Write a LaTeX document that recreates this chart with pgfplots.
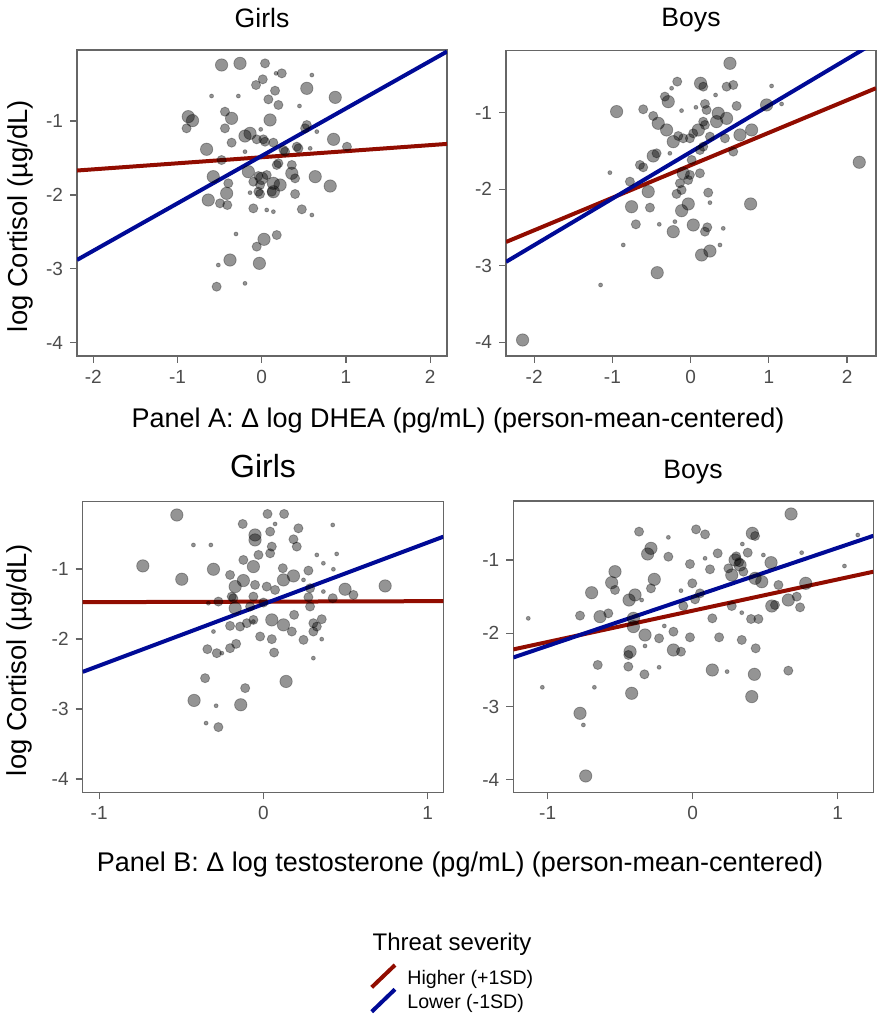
\documentclass[border=0pt]{standalone}
\usepackage{pgfplots}
\pgfplotsset{compat=1.18}
\usepackage{pgfplotstable}
\usepackage{fontspec}
\setmainfont{Liberation Sans}
\definecolor{hired}{RGB}{145,12,0}
\definecolor{loblue}{RGB}{0,10,150}

\pgfplotstableread{
x y s
-0.477 -0.242 3.1
-0.258 -0.220 3.1
0.039 -0.220 2.3
0.238 -0.355 2.3
0.170 -0.355 1
0.595 -0.378 1
0.012 -0.436 2.3
-0.068 -0.513 2.3
0.535 -0.558 3.1
0.158 -0.590 2.3
-0.596 -0.662 1
-0.278 -0.662 1
0.079 -0.707 2.3
0.873 -0.680 3.1
0.198 -0.783 2.3
0.448 -0.797 1
-0.873 -0.941 3.1
-0.822 -0.995 3.1
-0.893 -1.099 2.3
-0.437 -0.874 2.3
-0.358 -0.964 3.1
-0.437 -1.099 2.3
0.099 -0.986 3.1
-0.012 -1.113 1
-0.139 -1.167 3.1
-0.199 -1.203 3.1
-0.060 -1.248 2.3
0.535 -1.054 2.3
0.654 -1.144 1
-0.358 -1.293 2.3
0.019 -1.248 2.3
0.138 -1.293 2.3
0.853 -1.248 3.1
-0.655 -1.383 3.1
-0.199 -1.415 1
0.258 -1.392 2.3
0.416 -1.347 2.3
0.575 -1.370 1
-0.477 -1.528 2.3
0.178 -1.595 2.3
-0.576 -1.753 3.1
-0.159 -1.686 3.1
-0.040 -1.744 2.3
0.059 -1.731 2.3
0.357 -1.708 3.1
0.396 -1.776 2.3
0.635 -1.753 3.1
0.813 -1.880 3.1
-0.397 -1.843 2.3
0.218 -1.866 3.1
0.138 -1.843 3.1
-0.020 -1.866 2.3
0.119 -1.956 2.3
-0.417 -1.979 3.1
-0.635 -2.069 3.1
-0.496 -2.114 2.3
-0.409 -2.137 2.3
-0.139 -1.970 1
-0.020 -1.988 2.3
0.396 -1.988 2.3
-0.100 -2.182 2.3
0.059 -2.204 1
0.138 -2.227 1
0.476 -2.195 2.3
0.595 -2.272 1
-0.306 -2.529 1
0.027 -2.601 3.1
-0.060 -2.700 2.3
0.178 -2.543 2.3
-0.377 -2.881 3.1
-0.516 -2.949 1
-0.028 -2.926 3.1
-0.536 -3.242 2.3
-0.199 -3.197 1
1.012 -1.348 2.3
0.039 -1.280 2.3
0.277 -1.415 2.3
0.436 -1.370 2.3
0.515 -1.099 2.3
0.357 -1.595 2.3
0.198 -1.572 2.3
0.000 -1.776 3.1
-0.100 -1.821 2.3
-0.040 -1.957 2.3
0.138 -1.957 3.1
}\tlpts

\pgfplotstableread{
x y s
0.503 -0.355 3.1
-0.171 -0.594 2.3
0.127 -0.616 3.1
0.162 -0.660 2.3
0.460 -0.660 2.3
0.545 -0.638 2.3
1.035 -0.651 1
-0.243 -0.681 1
0.319 -0.769 1
-0.329 -0.790 2.3
-0.286 -0.856 3.1
-0.946 -0.986 3.1
-0.606 -0.956 2.3
-0.116 -0.973 1
0.068 -0.930 1
0.183 -0.886 2.3
0.204 -0.965 2.3
0.588 -0.912 2.3
0.971 -0.899 3.1
1.163 -0.886 1
0.353 -1.008 3.1
0.460 -1.074 3.1
0.332 -1.117 3.1
-0.478 -1.043 2.3
-0.414 -1.139 3.1
-0.307 -1.226 3.1
-0.158 -1.305 2.3
0.098 -1.226 3.1
0.183 -1.161 2.3
-0.222 -1.379 3.1
-0.009 -1.335 2.3
0.247 -1.313 2.3
0.439 -1.335 2.3
0.631 -1.291 3.1
0.780 -1.226 3.1
-0.435 -1.531 2.3
-0.478 -1.566 3.1
-0.265 -1.531 1
0.545 -1.509 2.3
0.119 -1.488 2.3
-0.606 -1.714 2.3
-0.648 -1.683 2.3
-1.032 -1.784 1
-0.094 -1.792 3.1
-0.009 -1.814 2.3
0.119 -1.792 2.3
-0.776 -1.901 2.3
-0.542 -2.032 3.1
-0.137 -1.923 2.3
-0.180 -2.062 2.3
0.225 -2.045 2.3
-0.755 -2.229 3.1
-0.520 -2.241 2.3
-0.030 -2.193 3.1
-0.115 -2.281 3.1
0.247 -2.176 1
0.767 -2.193 3.1
-0.700 -2.459 2.3
-0.401 -2.459 1
0.034 -2.468 3.1
-0.222 -2.555 3.1
0.183 -2.555 2.3
0.213 -2.498 2.3
-0.201 -2.424 1
0.417 -2.512 1
-0.861 -2.729 1
0.140 -2.860 3.1
0.247 -2.808 3.1
0.375 -2.729 1
-0.427 -3.091 3.1
-1.151 -3.252 1
2.156 -1.648 3.1
-2.148 -3.971 3.1
0.161 -1.118 2.3
0.033 -1.270 2.3
-0.095 -1.335 2.3
0.161 -1.444 2.3
0.013 -1.618 2.3
-0.115 -2.010 2.3
-0.031 -1.880 2.3
}\trpts

\pgfplotstableread{
x y s
-0.527 -0.230 3.1
0.025 -0.215 2.3
0.126 -0.215 2.3
-0.126 -0.358 2.3
0.071 -0.358 1
0.213 -0.420 2.3
0.422 -0.372 1
-0.051 -0.515 3.1
0.041 -0.467 2.3
-0.051 -0.586 3.1
0.183 -0.577 2.3
0.203 -0.681 2.3
0.051 -0.681 2.3
0.041 -0.777 2.3
-0.426 -0.658 1
-0.320 -0.658 1
-0.122 -0.872 2.3
-0.030 -0.800 2.3
0.325 -0.800 1
0.446 -0.786 1
0.365 -0.919 1
-0.061 -0.967 3.1
-0.304 -1.005 3.1
-0.497 -1.147 3.1
0.426 -1.005 1
0.274 -1.024 2.3
0.118 -0.990 2.3
-0.203 -1.086 2.3
0.183 -1.100 3.1
0.122 -1.157 3.1
0.741 -1.243 3.1
0.244 -1.157 1
-0.122 -1.166 3.1
-0.172 -1.252 3.1
-0.051 -1.228 2.3
0.020 -1.252 2.3
0.071 -1.300 2.3
-0.193 -1.395 2.3
0.497 -1.290 3.1
0.548 -1.371 2.3
0.365 -1.323 1
0.422 -1.418 2.3
0.274 -1.404 2.3
0.284 -1.537 2.3
-0.274 -1.466 2.3
-0.335 -1.490 1
-0.172 -1.561 3.1
-0.081 -1.537 2.3
0.000 -1.480 2.3
0.187 -1.656 2.3
0.051 -1.728 3.1
0.122 -1.799 3.1
0.173 -1.894 2.3
-0.101 -1.775 2.3
-0.142 -1.823 2.3
-0.203 -1.813 2.3
-0.061 -1.751 1
0.355 -1.718 2.3
0.325 -1.823 2.3
0.304 -1.894 2.3
-0.020 -1.965 2.3
0.051 -2.003 2.3
0.244 -2.013 2.3
-0.304 -1.894 1
-0.341 -2.146 2.3
-0.284 -2.203 2.3
-0.253 -2.203 1
-0.203 -2.132 2.3
-0.166 -2.070 2.3
0.065 -2.194 2.3
0.304 -2.274 1
0.355 -2.003 1
-0.355 -2.560 2.3
-0.111 -2.702 2.3
0.138 -2.607 3.1
-0.422 -2.878 3.1
-0.138 -2.940 3.1
-0.288 -2.954 1
-0.349 -3.202 1
-0.274 -3.259 2.3
-0.734 -0.957 3.1
-0.183 -1.418 2.3
-0.061 -1.395 2.3
0.284 -1.276 2.3
-0.061 -1.728 2.3
0.304 -1.775 2.3
}\blpts

\pgfplotstableread{
x y s
0.678 -0.372 3.1
-0.370 -0.613 2.3
-0.168 -0.691 1
0.023 -0.582 2.3
0.085 -0.650 2.3
0.411 -0.636 3.1
0.430 -0.673 2.3
-0.288 -0.841 3.1
-0.311 -0.918 3.1
-0.168 -0.955 2.3
0.342 -0.782 1
0.172 -0.909 2.3
0.379 -0.900 2.3
0.487 -0.932 1
-0.019 -1.055 2.3
0.085 -0.977 1
0.119 -1.127 2.3
0.292 -1.000 3.1
0.326 -1.068 3.1
0.246 -1.114 2.3
0.540 -1.036 3.1
0.751 -0.900 1
1.046 -1.082 1
-0.536 -1.159 3.1
-0.265 -1.264 3.1
-0.288 -1.387 2.3
-0.697 -1.446 3.1
-0.559 -1.309 3.1
-0.536 -1.409 2.3
-0.003 -1.318 2.3
0.269 -1.205 3.1
0.349 -1.159 2.3
0.430 -1.250 3.1
0.476 -1.296 3.1
0.591 -1.341 2.3
0.779 -1.318 3.1
-0.398 -1.477 3.1
-0.439 -1.546 3.1
-0.081 -1.418 1
0.050 -1.455 2.3
0.016 -1.537 2.3
-0.352 -1.546 1
-0.065 -1.628 2.3
0.269 -1.628 2.3
0.545 -1.628 3.1
0.567 -1.614 2.3
0.659 -1.546 3.1
0.717 -1.500 2.3
0.740 -1.646 2.3
-1.134 -1.796 1
-0.777 -1.759 2.3
-0.639 -1.773 3.1
-0.582 -1.728 2.3
-0.409 -1.796 3.1
-0.409 -1.909 3.1
-0.196 -1.900 1
-0.133 -1.978 2.3
0.135 -1.796 2.3
0.338 -1.719 1
0.402 -1.805 2.3
0.453 -1.805 2.3
-0.329 -2.023 3.1
-0.232 -2.069 2.3
-0.019 -2.055 2.3
0.182 -2.055 2.3
0.338 -2.091 2.3
-0.432 -2.251 3.1
-0.444 -2.296 2.3
-0.329 -2.173 1
-0.133 -2.228 3.1
-0.081 -2.251 2.3
0.434 -2.205 2.3
-0.655 -2.432 2.3
-0.444 -2.455 2.3
-0.232 -2.464 1
-0.333 -2.560 2.3
0.135 -2.501 3.1
0.237 -2.523 1
0.425 -2.560 3.1
0.659 -2.510 2.3
-1.037 -2.737 1
-0.678 -2.737 1
-0.421 -2.819 3.1
0.407 -2.864 3.1
-0.777 -3.092 3.1
-0.754 -3.251 1
-0.738 -3.947 3.1
1.138 -0.659 1
0.300 -0.950 2.3
0.320 -1.030 2.3
}\brpts

\pgfplotsset{
  panel/.style={
    scale only axis, anchor=south west,
    axis line style={black!60, line width=0.6pt},
    tick align=outside, tick pos=left,
    major tick length=3.5pt,
    tick style={black!60, line width=0.6pt},
    ticklabel style={font=\fontsize{9.5}{11}\selectfont, text=black!70},
    /pgf/number format/assume math mode=true,
    ytick={-4,-3,-2,-1},
  },
  pts/.style={
    scatter, only marks, mark=*, point meta=0,
    visualization depends on={\thisrow{s}\as\msize},
    scatter/use mapped color={draw=black, fill=black},
    scatter/@pre marker code/.append style={/tikz/mark size=\msize},
    mark options={fill opacity=0.42, draw opacity=0.3, line width=0.4pt},
  },
  hiline/.style={hired, line width=2pt, no marks},
  loline/.style={loblue, line width=2pt, no marks},
}

\begin{document}
\begin{tikzpicture}
\begin{scope}[x=0.5pt, y=-0.5pt]
  \path[use as bounding box] (0,0) rectangle (881,1020);
  \coordinate (TL) at (77,356);
  \coordinate (TR) at (506,356);
  \coordinate (BL) at (82.7,792.3);
  \coordinate (BR) at (513.3,792.3);
  \node[anchor=base, inner sep=0, font=\fontsize{13.3}{15}\selectfont] at (262,27.3) {Girls};
  \node[anchor=base, inner sep=0, font=\fontsize{13.3}{15}\selectfont] at (691,26.7) {Boys};
  \node[anchor=base, inner sep=0, font=\fontsize{16}{18}\selectfont] at (263,477.3) {Girls};
  \node[anchor=base, inner sep=0, font=\fontsize{13.3}{15}\selectfont] at (693,478.3) {Boys};
  \node[anchor=base, inner sep=0, font=\fontsize{13.5}{15}\selectfont] at (458,428) {Panel A: Δ log DHEA (pg/mL) (person-mean-centered)};
  \node[anchor=base, inner sep=0, font=\fontsize{13.5}{15}\selectfont] at (460,871) {Panel B: Δ log testosterone (pg/mL) (person-mean-centered)};
  \node[rotate=90, inner sep=0, font=\fontsize{13.7}{15}\selectfont] at (20,216) {log Cortisol (µg/dL)};
  \node[rotate=90, inner sep=0, font=\fontsize{13.7}{15}\selectfont] at (19,660) {log Cortisol (µg/dL)};
  \node[anchor=base, inner sep=0, font=\fontsize{12}{14}\selectfont] at (452,950) {Threat severity};
  \draw[hired, line width=2pt] (371.7,987.3) -- (395,965);
  \draw[loblue, line width=2pt] (371.7,1011.7) -- (395,989.3);
  \node[anchor=base west, inner sep=0, font=\fontsize{9.8}{12}\selectfont] at (407,984) {Higher (+1SD)};
  \node[anchor=base west, inner sep=0, font=\fontsize{9.8}{12}\selectfont] at (407,1008) {Lower (-1SD)};
\end{scope}

\begin{axis}[panel, at={(TL)}, width=185pt, height=153pt,
  xmin=-2.194, xmax=2.2, ymin=-4.18, ymax=-0.039, xtick={-2,-1,0,1,2}]
  \addplot[pts] table {\tlpts};
  \addplot[hiline] coordinates {(-2.194,-1.67) (2.2,-1.31)};
  \addplot[loline] coordinates {(-2.194,-2.88) (2.2,-0.06)};
\end{axis}

\begin{axis}[panel, at={(TR)}, width=185pt, height=152.65pt,
  xmin=-2.36, xmax=2.37, ymin=-4.18, ymax=-0.19, xtick={-2,-1,0,1,2}]
  \addplot[pts] table {\trpts};
  \addplot[hiline] coordinates {(-2.36,-2.69) (2.37,-0.68)};
  \addplot[loline] coordinates {(-2.36,-2.95) (2.37,-0.074)};
\end{axis}

\begin{axis}[panel, at={(BL)}, width=180.3pt, height=145.3pt,
  xmin=-1.10, xmax=1.095, ymin=-4.19, ymax=-0.04, xtick={-1,0,1}]
  \addplot[pts] table {\blpts};
  \addplot[hiline] coordinates {(-1.10,-1.475) (1.095,-1.46)};
  \addplot[loline] coordinates {(-1.10,-2.47) (1.095,-0.54)};
\end{axis}

\begin{axis}[panel, at={(BR)}, width=180pt, height=145.65pt,
  xmin=-1.237, xmax=1.245, ymin=-4.17, ymax=-0.195, xtick={-1,0,1}]
  \addplot[pts] table {\brpts};
  \addplot[hiline] coordinates {(-1.237,-2.22) (1.245,-1.16)};
  \addplot[loline] coordinates {(-1.237,-2.33) (1.245,-0.67)};
\end{axis}
\end{tikzpicture}
\end{document}
